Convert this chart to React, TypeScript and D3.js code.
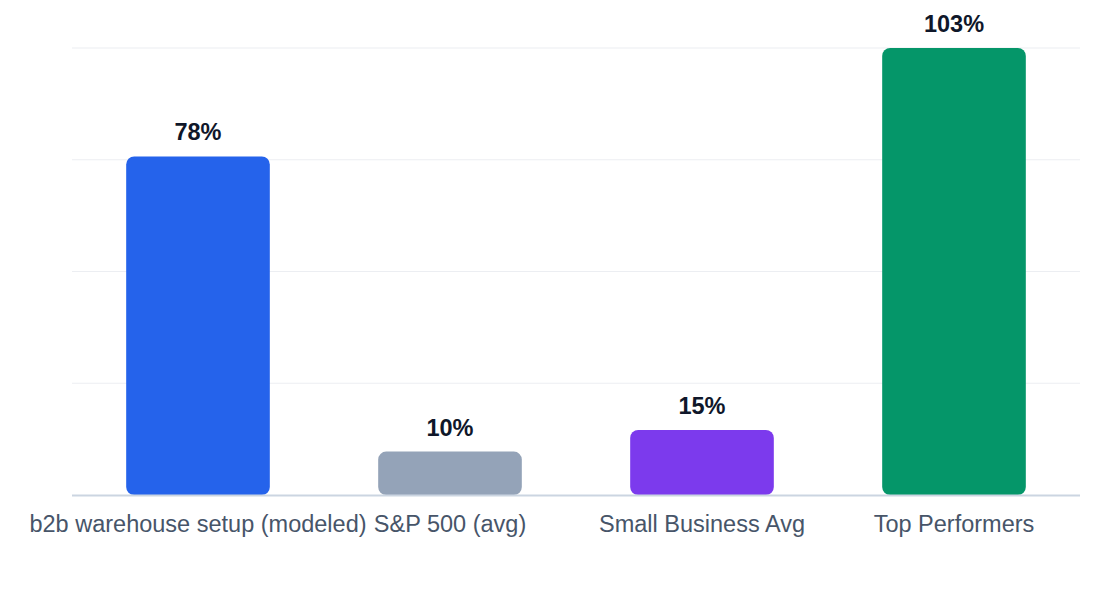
import React, { useEffect, useRef } from 'react';
import * as d3 from 'd3';

const categories = ['b2b warehouse setup (modeled)', 'S&P 500 (avg)', 'Small Business Avg', 'Top Performers'];
const values = [78, 10, 15, 103];
const barColors = ['#2563eb', '#94a3b8', '#7c3aed', '#059669'];

const W = 1120;
const H = 600;
const margin = { top: 48, right: 40, bottom: 105, left: 72 };

export default function App() {
  const svgRef = useRef<SVGSVGElement>(null);

  useEffect(() => {
    if (!svgRef.current) return;
    const svg = d3.select(svgRef.current);
    svg.selectAll('*').remove();

    const innerW = W - margin.left - margin.right;
    const innerH = H - margin.top - margin.bottom;
    const maxV = d3.max(values) || 1;

    const x = d3.scaleBand<string>().domain(categories).range([0, innerW]).paddingInner(0.43).paddingOuter(0.215);
    const y = d3.scaleLinear().domain([0, maxV]).range([innerH, 0]);

    const g = svg.append('g').attr('transform', `translate(${margin.left},${margin.top})`);

    // gridlines
    const gridTicks = d3.range(0, 5).map(i => (maxV / 4) * i);
    g.selectAll('line.grid')
      .data(gridTicks.slice(1))
      .join('line')
      .attr('x1', 0)
      .attr('x2', innerW)
      .attr('y1', d => y(d))
      .attr('y2', d => y(d))
      .attr('stroke', '#eceef2')
      .attr('stroke-width', 1.2);

    // bars
    g.selectAll('rect.bar')
      .data(values)
      .join('rect')
      .attr('x', (_, i) => x(categories[i])!)
      .attr('y', d => y(d))
      .attr('width', x.bandwidth())
      .attr('height', d => innerH - y(d))
      .attr('rx', 8)
      .attr('fill', (_, i) => barColors[i]);

    // baseline
    g.append('line')
      .attr('x1', 0)
      .attr('x2', innerW)
      .attr('y1', innerH + 0.5)
      .attr('y2', innerH + 0.5)
      .attr('stroke', '#cbd5e1')
      .attr('stroke-width', 2);

    // value labels
    g.selectAll('text.val')
      .data(values)
      .join('text')
      .attr('x', (_, i) => x(categories[i])! + x.bandwidth() / 2)
      .attr('y', d => y(d) - 16)
      .attr('text-anchor', 'middle')
      .style('font-family', '"Liberation Sans", Arial, sans-serif')
      .style('font-weight', 'bold')
      .style('font-size', '23.5px')
      .style('fill', '#0f172a')
      .text(d => `${d}%`);

    // category labels
    g.selectAll('text.cat')
      .data(categories)
      .join('text')
      .attr('x', d => x(d)! + x.bandwidth() / 2)
      .attr('y', innerH + 37)
      .attr('text-anchor', 'middle')
      .style('font-family', '"Liberation Sans", Arial, sans-serif')
      .style('font-size', '23.5px')
      .style('fill', '#475569')
      .text(d => d);
  }, []);

  return (
    <div style={{ width: W, height: H, margin: -8, background: '#fff' }}>
      <svg ref={svgRef} width={W} height={H}></svg>
    </div>
  );
}
